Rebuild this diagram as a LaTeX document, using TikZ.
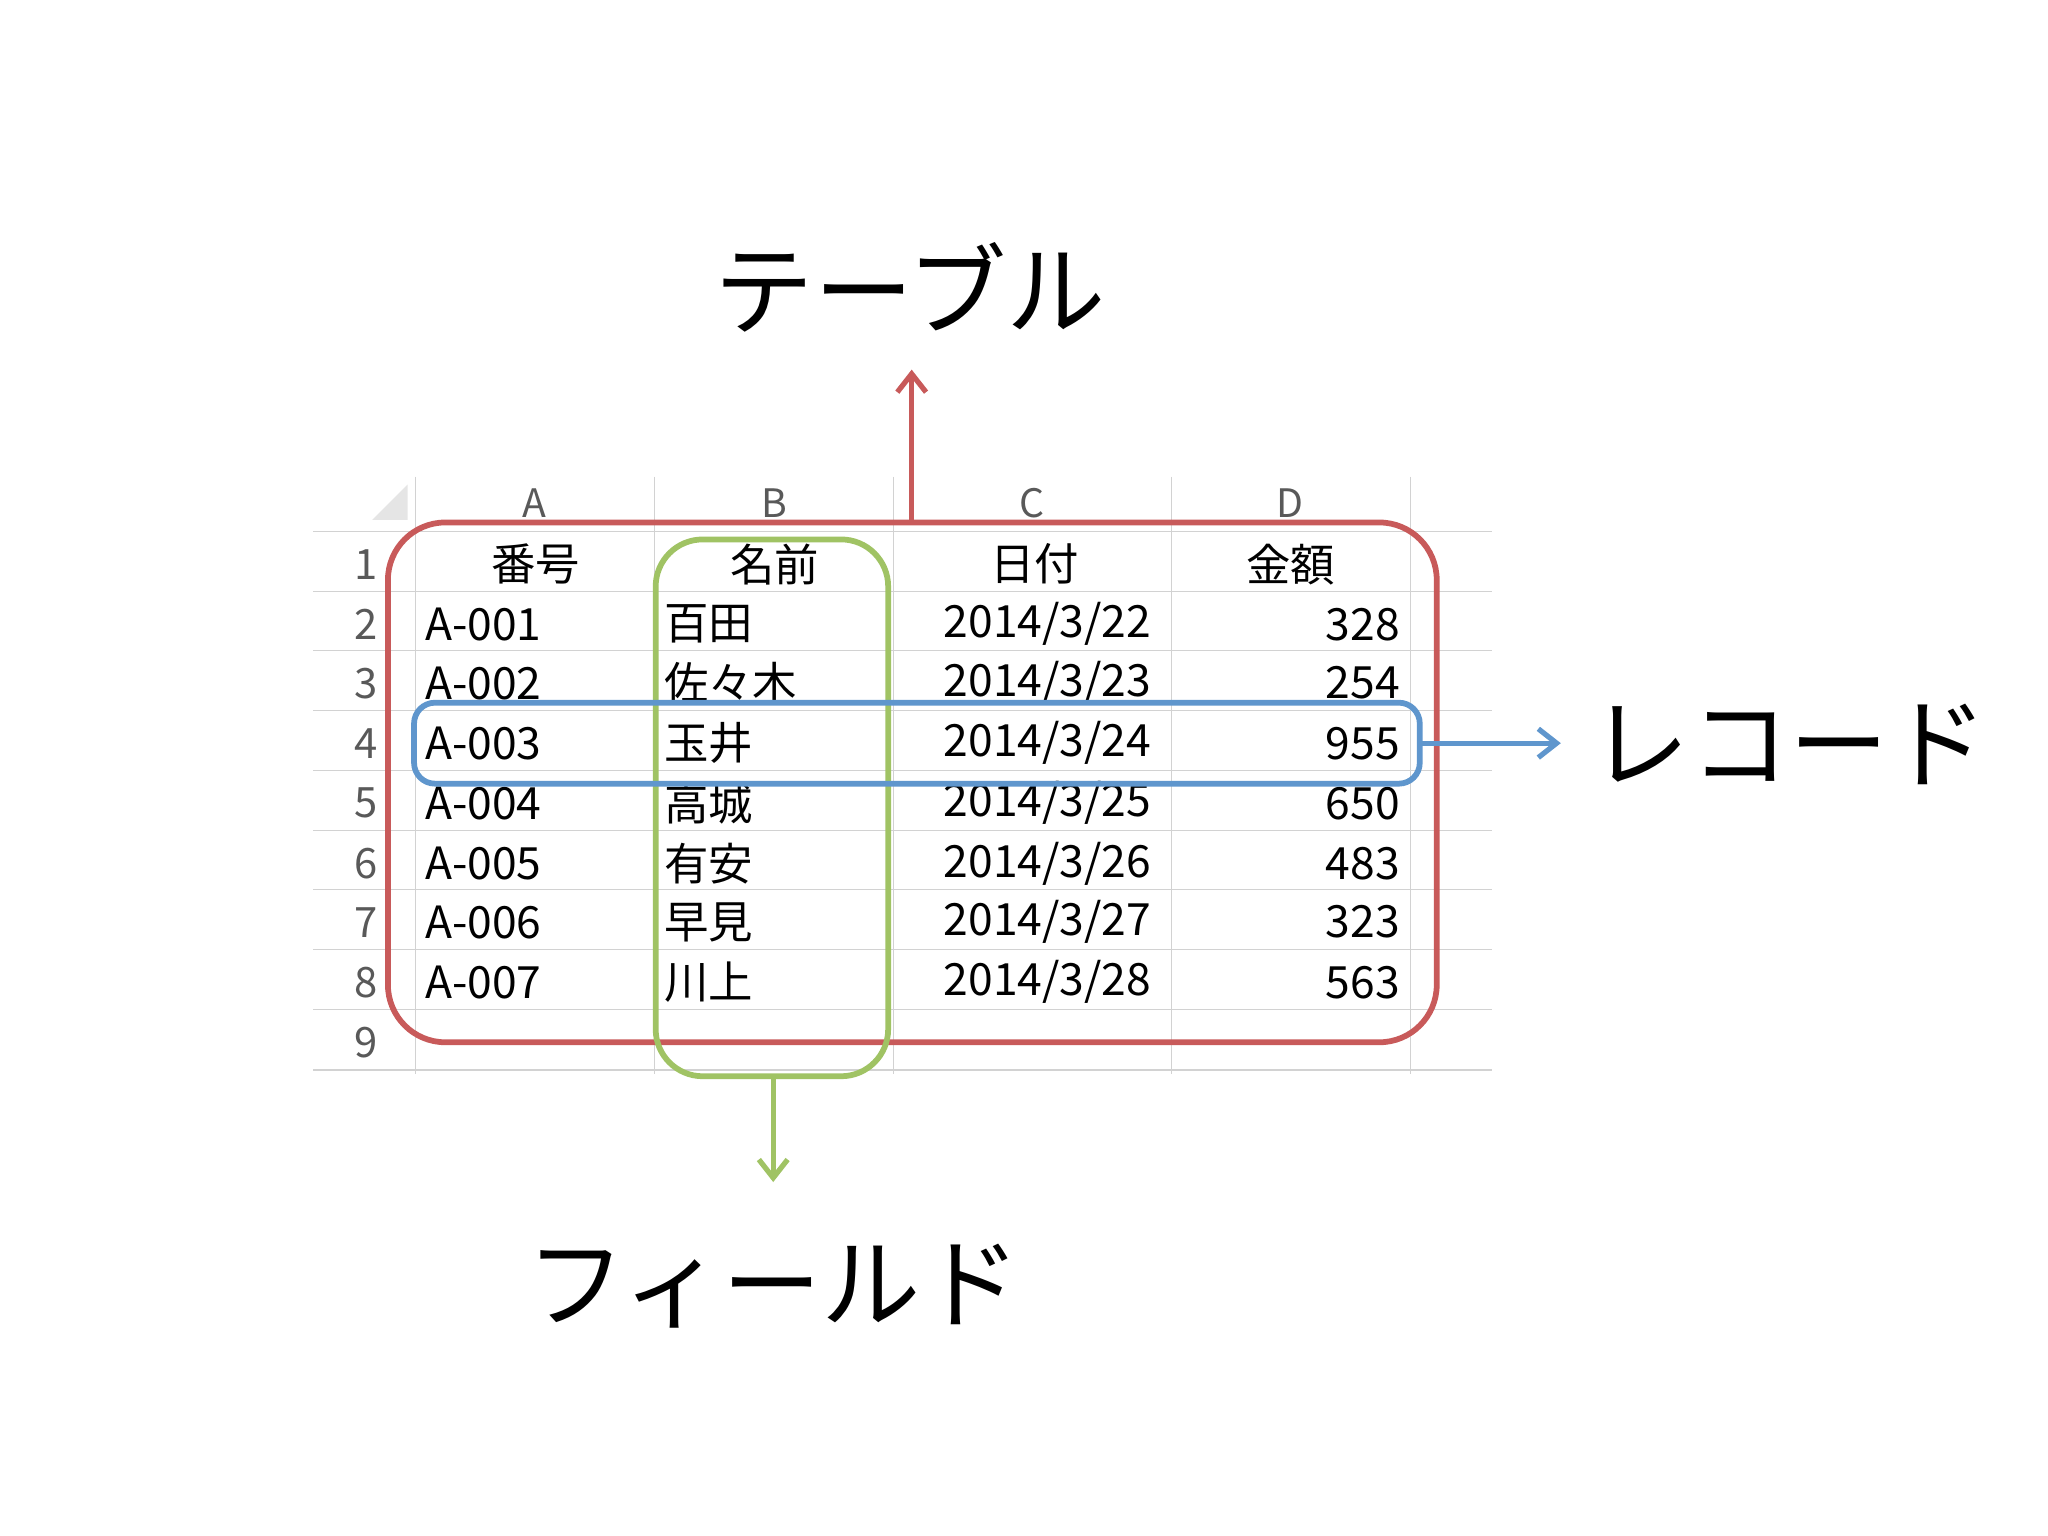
\documentclass[tikz,border=0pt]{standalone}
\usepackage{fontspec}
\setmainfont{Noto Sans CJK JP}
\usetikzlibrary{arrows.meta}
\begin{document}
\begin{tikzpicture}[x=0.5pt,y=-0.5pt,
  grid/.style={draw=gray!35,line width=0.6pt},
  cell/.style={font=\fontsize{17}{17}\selectfont,inner sep=0pt},
  hdr/.style={font=\fontsize{15}{15}\selectfont,text=gray!70!black,inner sep=0pt},
  big/.style={font=\fontsize{38}{38}\selectfont,inner sep=0pt},
  arr/.style={line width=2pt,-{Straight Barb[length=7pt,width=11pt]}}]
\useasboundingbox[fill=white] (0,0) rectangle (1568,1176);
% grid
\foreach \x in {318,501,684,897,1080} \draw[grid] (\x,365) -- (\x,822);
\foreach \y in {407,453,498,544,590,636,681,727,773,819} \draw[grid] (240,\y) -- (1142,\y);
\fill[gray!20] (285,398) -- (312,398) -- (312,371) -- cycle;
\foreach \t/\x in {A/409,B/593,C/790,D/988} \node[hdr] (h\t) at (\x,385) {\t};
\foreach \n/\y in {1/432,2/478,3/523,4/569,5/615,6/661,7/706,8/752,9/798}
  \node[hdr,font=\fontsize{16}{16}\selectfont] (r\n) at (280,\y) {\n};
% header
\node[cell] (ca) at (410,432) {番号};
\node[cell] (cb) at (593,432) {名前};
\node[cell] (cc) at (792,432) {日付};
\node[cell] (cd) at (988,432) {金額};
\foreach \i/\a/\b/\c/\d/\y in {2/A-001/百田/2014\slash 3\slash 22/328/478,
  3/A-002/佐々木/2014\slash 3\slash 23/254/523,
  4/A-003/玉井/2014\slash 3\slash 24/955/569,
  5/A-004/高城/2014\slash 3\slash 25/650/615,
  6/A-005/有安/2014\slash 3\slash 26/483/661,
  7/A-006/早見/2014\slash 3\slash 27/323/706,
  8/A-007/川上/2014\slash 3\slash 28/563/752}{
  \node[cell,anchor=west] (a\i) at (325,\y) {\a};
  \node[cell,anchor=west] (b\i) at (508,\y) {\b};
  \node[cell] (c\i) at (802,\y) {\c};
  \node[cell,anchor=east] (d\i) at (1072,\y) {\d};
}
% red table
\draw[draw={rgb,255:red,200;green,90;blue,90},line width=2.2pt,rounded corners=22pt] (297,400) rectangle (1100,798);
\coordinate (rt) at (698,400);
\node[big] (tbl) at (697,220) {テーブル};
\draw[arr,draw={rgb,255:red,200;green,90;blue,90}] (rt) -- (698,283);
% green field
\draw[draw={rgb,255:red,160;green,195;blue,100},line width=2.2pt,rounded corners=18pt] (502,413) rectangle (680,824);
\coordinate (gb) at (592,824);
\coordinate (ge) at (592,905);
\node[big] (fld) at (592,985) {フィールド};
\draw[arr,draw={rgb,255:red,160;green,195;blue,100}] (gb) -- (ge);
% blue record
\draw[draw={rgb,255:red,95;green,150;blue,205},line width=2.2pt,rounded corners=8pt] (317,538) rectangle (1087,600);
\coordinate (bs) at (1087,569);
\coordinate (be) at (1195,569);
\node[big] (rec) at (1370,570) {レコード};
\draw[arr,draw={rgb,255:red,95;green,150;blue,205}] (bs) -- (be);
\end{tikzpicture}
\end{document}
